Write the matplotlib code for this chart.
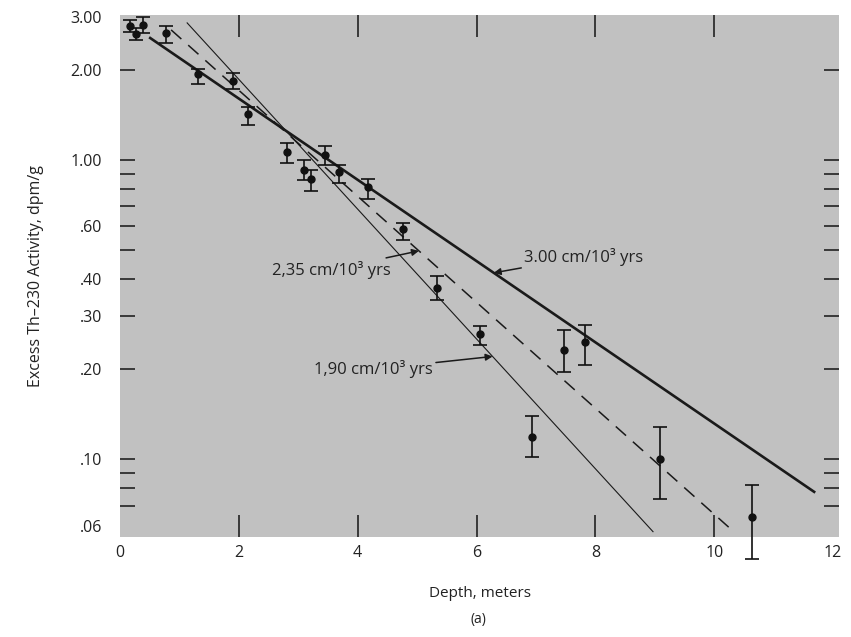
import numpy as np
import matplotlib
matplotlib.use("Agg")
import matplotlib.pyplot as plt

plt.rcParams['font.family'] = ['Open Sans', 'DejaVu Sans']

# ---- data ----
depth = [0.17, 0.27, 0.39, 0.77, 1.31, 1.90, 2.15, 2.81, 3.09, 3.21, 3.45,
         3.68, 4.17, 4.76, 5.34, 6.05, 7.48, 7.83, 6.94, 9.09, 10.64]
activity = [2.80, 2.64, 2.83, 2.65, 1.93, 1.83, 1.42, 1.06, 0.925, 0.863, 1.04,
            0.911, 0.811, 0.586, 0.374, 0.262, 0.231, 0.246, 0.119, 0.100, 0.0642]
act_hi = [2.94, 2.77, 3.00, 2.80, 2.02, 1.95, 1.50, 1.14, 1.00, 0.925, 1.115,
          0.962, 0.863, 0.618, 0.410, 0.278, 0.270, 0.282, 0.139, 0.128, 0.0818]
act_lo = [2.67, 2.52, 2.65, 2.46, 1.80, 1.72, 1.31, 0.977, 0.856, 0.79, 0.962,
          0.837, 0.739, 0.542, 0.340, 0.240, 0.196, 0.207, 0.102, 0.0735, 0.0465]

# fitted lines (end points)
line300_x = [0.49, 11.70]
line300_y = [2.57, 0.0774]
line235_x = [0.86, 10.35]
line235_y = [2.72, 0.0568]
line190_x = [1.13, 8.97]
line190_y = [2.87, 0.0573]

ytick_vals = [3.0, 2.0, 1.0, 0.6, 0.4, 0.3, 0.2, 0.1, 0.06]
ytick_labels = ["3.00", "2.00", "1.00", ".60", ".40", ".30", ".20", ".10", ".06"]
ymark_vals = [2.0, 1.0, 0.9, 0.8, 0.7, 0.6, 0.5, 0.4, 0.3, 0.2, 0.1, 0.09, 0.08, 0.07]
xtick_vals = [0, 2, 4, 6, 8, 10, 12]
xmark_vals = [2, 4, 6, 8, 10]

fig = plt.figure(figsize=(8.51, 6.37), dpi=100)
ax = fig.add_axes([120 / 851, 1 - 537 / 637, 719 / 851, 522 / 637])
ax.set_facecolor('#c1c1c1')
for s in ax.spines.values():
    s.set_visible(False)

ax.set_yscale('log')
ax.set_xlim(0, 12.1)
ax.set_ylim(0.055, 3.05)

# lines
ax.plot(line300_x, line300_y, color='#1a1a1a', lw=1.9, solid_capstyle='butt')
ax.plot(line235_x, line235_y, color='#1a1a1a', lw=1.1, dashes=(9, 6))
ax.plot(line190_x, line190_y, color='#1a1a1a', lw=0.8)

# points with error bars
yerr = [np.array(activity) - np.array(act_lo), np.array(act_hi) - np.array(activity)]
ax.errorbar(depth, activity, yerr=yerr, fmt='o', color='#111111', ms=5,
            ecolor='#111111', elinewidth=1.2, capsize=5, capthick=1.2,
            clip_on=False, zorder=5)

# ticks
ax.xaxis.remove_overlapping_locs = False
ax.yaxis.remove_overlapping_locs = False
ax.set_yticks(ytick_vals)
ax.set_yticklabels(ytick_labels)
ax.set_yticks(ymark_vals, minor=True)
ax.yaxis.set_minor_formatter(matplotlib.ticker.NullFormatter())
ax.set_xticks(xtick_vals)
ax.set_xticklabels([str(v) for v in xtick_vals])
ax.set_xticks(xmark_vals, minor=True)
ax.xaxis.set_minor_formatter(matplotlib.ticker.NullFormatter())
ax.tick_params(which='major', length=0, labelsize=11.5, colors='#222222')
ax.tick_params(axis='y', which='major', pad=13)
ax.tick_params(axis='x', which='major', pad=6)
ax.tick_params(axis='y', which='minor', direction='in', length=11, width=1.2,
               left=True, right=True, color='#222222')
ax.tick_params(axis='x', which='minor', direction='in', length=16, width=1.2,
               bottom=True, top=True, color='#222222')

ax.set_xlabel('Depth, meters', fontsize=11, color='#222222', labelpad=18)
ax.set_ylabel('Excess Th–230 Activity, dpm/g', fontsize=11.5, color='#222222',
              labelpad=19)
fig.text(0.562, 1 - 620 / 637, '(a)', ha='center', va='center', fontsize=10,
         color='#222222')


def on_line(xs, ys, x):
    return 10 ** np.interp(x, xs, np.log10(ys))


arrow = dict(arrowstyle='-|>', color='#1a1a1a', lw=1.1, mutation_scale=10,
             shrinkA=0, shrinkB=0)
ax.annotate('3.00 cm/10³ yrs', xy=(6.29, on_line(line300_x, line300_y, 6.29)),
            xytext=(6.80, 0.475), ha='left', va='center', fontsize=12,
            color='#222222', arrowprops=arrow)
ax.annotate('2,35 cm/10³ yrs', xy=(5.03, on_line(line235_x, line235_y, 5.03)),
            xytext=(4.55, 0.43), ha='right', va='center', fontsize=12,
            color='#222222', arrowprops=arrow)
ax.annotate('1,90 cm/10³ yrs', xy=(6.27, on_line(line190_x, line190_y, 6.27)),
            xytext=(5.27, 0.2), ha='right', va='center', fontsize=12,
            color='#222222', arrowprops=arrow)

fig.savefig('out.png', dpi=100, facecolor='white')
